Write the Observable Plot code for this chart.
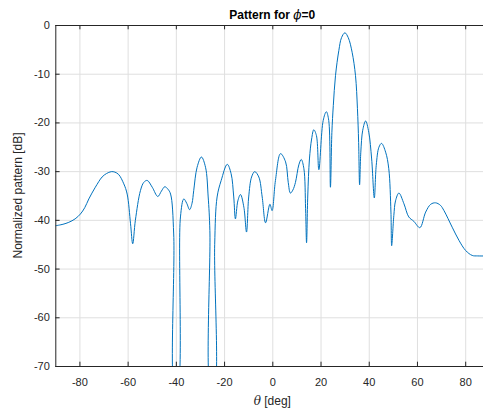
<!DOCTYPE html>
<html>
<head>
<meta charset="utf-8">
<script src="https://cdn.jsdelivr.net/npm/d3@7"></script>
<script src="https://cdn.jsdelivr.net/npm/@observablehq/plot@0.6"></script>
<style>
  html, body { margin: 0; padding: 0; background: #fff; overflow: hidden; }
  #chart { width: 483px; height: 409px; overflow: hidden; }
  #chart svg { max-width: none !important; display: block; }
</style>
</head>
<body>
<div id="chart"></div>
<script>
// Elevation angle θ (deg) and normalized array pattern (dB) for the φ = 0 cut
const theta = [
  -90, -87, -84.6, -82, -79.8, -78, -76.3, -73.6, -70.8, -69, -67, -65.5, -63.9, -61.8,
  -60.4, -59.0, -58.1, -57.0, -54.9, -53.5, -52.1, -50.0, -47.7, -46.2, -44.8, -43.5,
  -42.4, -41.1, -40.6, -39.6, -38.3, -36.9, -35.7, -34.5, -33.5, -32.8, -31.4, -29.6,
  -27.9, -26.8, -26.1, -25.6, -24.4, -24.1, -23.1, -21.4, -18.9, -17.3, -16.2, -15.5,
  -14.5, -13.4, -12.0, -10.9, -10.0, -8.8, -7.5, -5.8, -4.4, -3.0, -1.2, -0.3, 1.1,
  3.2, 5.3, 6.4, 7.3, 8.3, 9.4, 10.8, 11.8, 12.9, 13.6, 14.0, 14.5, 15.2, 16.1, 17.0,
  18.1, 19.1, 20.9, 22.2, 23.2, 23.9, 24.5, 25.1, 26.0, 27.4, 28.5, 29.9, 31.3, 32.9,
  34.3, 35.1, 35.6, 36.0, 36.5, 37.3, 38.5, 39.8, 41.0, 42.1, 42.9, 44.0, 45.1, 46.8,
  48.1, 49.0, 49.3, 50.2, 50.9, 52.3, 54.4, 56.4, 58.5, 61.0, 63.4, 65.5, 67.5, 69.5,
  71.0, 74.4, 77.2, 80.0, 82.7, 85.0, 90.0
];
const patternDb = [
  -41.1, -40.8, -40.4, -39.7, -38.7, -37.4, -35.6, -33.2, -31.1, -30.4, -30.0, -30.1, -30.6, -32.5,
  -34.6, -40.7, -44.8, -40.0, -33.9, -32.2, -31.8, -33.2, -35.1, -34.0, -33.1, -33.6,
  -34.6, -42.8, -75, -75, -39.3, -35.6, -36.5, -37.8, -36.5, -33.9, -29.1, -27.0,
  -29.1, -35.2, -42.1, -75, -75, -45, -35.2, -31.8, -28.5, -30.4, -35.2, -39.7,
  -36.0, -34.7, -37.3, -42.4, -35.2, -31.1, -30.0, -31.1, -35.2, -40.5, -36.7, -38.0, -31.8,
  -26.3, -28.0, -32.2, -34.4, -33.8, -32.2, -28.6, -27.5, -29.4, -37.6, -44.6, -35.0, -27.4, -23.3, -21.4,
  -22.6, -29.6, -19.5, -17.7, -19.5, -33.2, -22.0, -16.4, -10.3, -5.1, -2.5, -1.5, -2.5, -5.5,
  -10.3, -17.0, -24.0, -32.7, -26.0, -21.5, -19.6, -21.9, -27.4, -35.4, -28.7, -25.0, -24.2, -26.0,
  -29.4, -38.3, -45.2, -39.0, -36.0, -34.4, -36.6, -39.3, -40.2, -41.5, -38.3, -36.7, -36.4, -36.9,
  -38.0, -41.4, -44.1, -46.2, -47.2, -47.3, -47.3
];
const xTicks = [-80, -60, -40, -20, 0, 20, 40, 60, 80];
const yTicks = [0, -10, -20, -30, -40, -50, -60, -70];

const pattern = theta.map((t, i) => ({theta: t, db: patternDb[i]}));

const W = 500, H = 409;
const mL = 55.3, mR = 10.7, mT = 25, mB = 43;
const innerW = W - mL - mR, innerH = H - mT - mB;
const tickLen = 4.3;
const axisColor = "#262626";
const gridColor = "#dfdfdf";
const fmt = d => String(d);

const svg = Plot.plot({
  width: W, height: H,
  marginTop: mT, marginBottom: mB, marginLeft: mL, marginRight: mR,
  style: {fontFamily: "'Liberation Sans', Arial, Helvetica, sans-serif", fontSize: "11px", color: axisColor, background: "#fff", maxWidth: "none"},
  x: {domain: [-90, 90], label: null},
  y: {domain: [-70, 0], label: null},
  marks: [
    Plot.gridX(xTicks, {stroke: gridColor, strokeOpacity: 1}),
    Plot.gridY(yTicks, {stroke: gridColor, strokeOpacity: 1}),
    Plot.line(pattern, {x: "theta", y: "db", stroke: "#0072BD", strokeWidth: 1, curve: "catmull-rom", clip: true}),
    // inward tick marks on the box edges
    Plot.tickX(xTicks, {x: d => d, stroke: axisColor, insetTop: innerH - tickLen}),
    Plot.tickX(xTicks, {x: d => d, stroke: axisColor, insetBottom: innerH - tickLen}),
    Plot.tickY(yTicks, {y: d => d, stroke: axisColor, insetRight: innerW - tickLen}),
    Plot.frame({stroke: axisColor, strokeWidth: 1}),
    Plot.axisX({ticks: xTicks, tickSize: 0, tickPadding: 12, tickFormat: fmt, label: null, fill: axisColor}),
    Plot.axisY({ticks: yTicks, tickSize: 0, tickPadding: 6, tickFormat: fmt, label: null, fill: axisColor})
  ]
});

const s = d3.select(svg);
const cx = mL + innerW / 2;

// Title
const title = s.append("text")
  .attr("x", cx).attr("y", 18.5)
  .attr("text-anchor", "middle")
  .attr("fill", "#000")
  .style("font-size", "12px").style("font-weight", "bold");
title.append("tspan").text("Pattern for ");
title.append("tspan").text("ϕ").style("font-style", "italic").style("font-weight", "normal").style("font-family", "'DejaVu Serif', serif");
title.append("tspan").text("=0");

// x-axis label
const xl = s.append("text")
  .attr("x", cx).attr("y", 405)
  .attr("text-anchor", "middle")
  .attr("fill", axisColor)
  .style("font-size", "12px");
xl.append("tspan").text("θ").style("font-style", "italic").style("font-family", "'DejaVu Serif', serif");
xl.append("tspan").text(" [deg]");

// y-axis label
s.append("text")
  .attr("transform", `translate(22,${mT + innerH / 2}) rotate(-90)`)
  .attr("text-anchor", "middle")
  .attr("fill", axisColor)
  .style("font-size", "12px")
  .text("Normalized pattern [dB]");

document.getElementById("chart").appendChild(svg);
</script>
</body>
</html>
